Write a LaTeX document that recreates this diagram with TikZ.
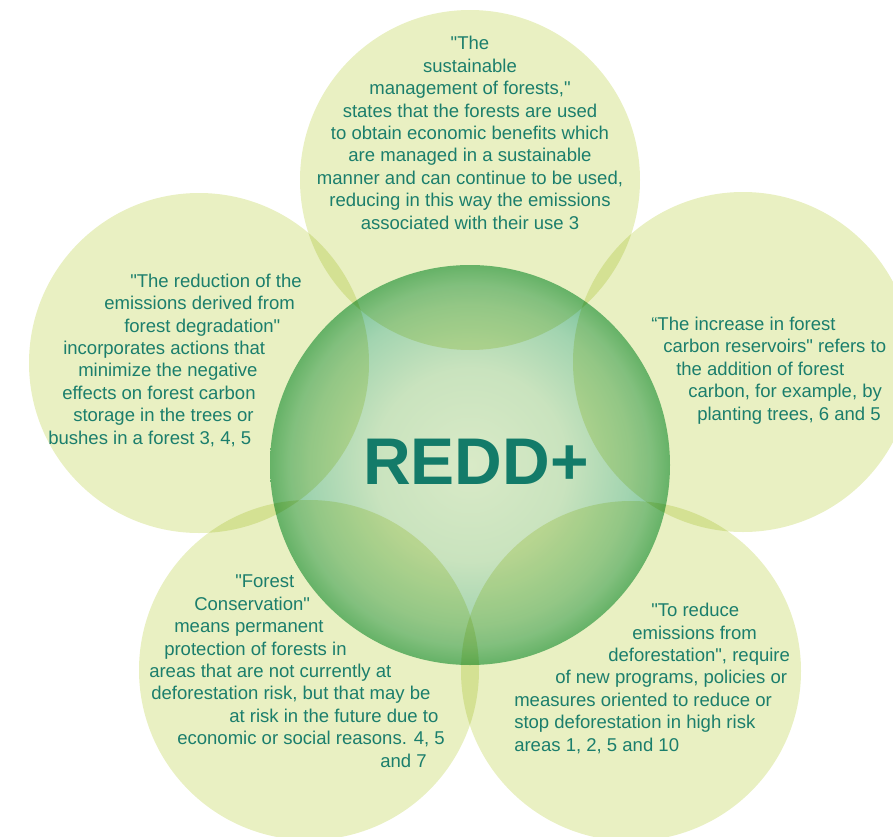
\documentclass[tikz,border=0pt]{standalone}
\usepackage{fontspec}
\setmainfont{Liberation Sans}[Ligatures=TeXOff]
\usepackage{tikz}
\usepackage{xcolor}

\definecolor{petalgreen}{HTML}{E9F0C2}
\definecolor{blurbteal}{HTML}{1B7E6C}
\definecolor{reddteal}{HTML}{137B69}
\definecolor{coremid}{HTML}{D9EAC7}
\definecolor{coreinner}{HTML}{C9E3BE}
\definecolor{coremint}{HTML}{A2D4B0}
\definecolor{corerim}{HTML}{8FCCA6}
\definecolor{coreedge}{HTML}{70BE88}
\pgfdeclareradialshading{coreshade}{\pgfpoint{0bp}{0bp}}{color(0bp)=(coremid); color(12bp)=(coreinner); color(20bp)=(coremint); color(22.5bp)=(corerim); color(25bp)=(coreedge); color(50bp)=(coreedge)}

\begin{document}
\begin{tikzpicture}[x=0.75pt,y=0.75pt,yscale=-1,xscale=1,
  petal/.style={fill=petalgreen},
  blurb/.style={text=blurbteal,font=\fontsize{13.9}{16.8}\selectfont,inner sep=0pt,align=left,anchor=base west}]
  \useasboundingbox (0,0) rectangle (893,836);
  \clip (0,0) rectangle (893,836);

  %Shape: Circle [core]
  \shade [shading=coreshade] (470,465) circle (200);
  \begin{scope}[blend mode=multiply]
  %Shape: Circle [top petal]
  \fill [petal] (470,180) circle (170);
  %Shape: Circle [left petal]
  \fill [petal] (199,363) circle (170);
  %Shape: Circle [right petal]
  \fill [petal] (743,362) circle (170);
  %Shape: Circle [lower left petal]
  \fill [petal] (309,670) circle (170);
  %Shape: Circle [lower right petal]
  \fill [petal] (631,671) circle (170);
  \end{scope}

  % Text Node (base = last line)
  \node [blurb,align=center,anchor=base] (sustain) at (470,229) {"The\\sustainable\\management of forests,"\\states that the forests are used\\to obtain economic benefits which\\are managed in a sustainable\\manner and can continue to be used,\\reducing in this way the emissions\\associated with their use 3};
  % Text Node
  \node [blurb] (degrade) at (48,444) {\hspace*{61.5pt}"The reduction of the\\\hspace*{42pt}emissions derived from\\\hspace*{57pt}forest degradation"\\\hspace*{11.25pt}incorporates actions that\\\hspace*{22.5pt}minimize the negative\\\hspace*{10.5pt}effects on forest carbon\\\hspace*{18.75pt}storage in the trees or\\bushes in a forest 3, 4, 5};
  % Text Node
  \node [blurb] (reservoir) at (651,420) {“The increase in forest\\\hspace*{9pt}carbon reservoirs" refers to\\\hspace*{18.75pt}the addition of forest\\\hspace*{27.75pt}carbon, for example, by\\\hspace*{34.5pt}planting trees, 6 and 5};
  % Text Node
  \node [blurb] (conserve) at (149,767) {\hspace*{64.5pt}"Forest\\\hspace*{33.75pt}Conservation"\\\hspace*{18.75pt}means permanent\\\hspace*{11.25pt}protection of forests in\\areas that are not currently at\\\hspace*{1.5pt}deforestation risk, but that may be\\\hspace*{60pt}at risk in the future due to\\\hspace*{21pt}economic or social reasons. 4, 5\\\hspace*{173.25pt}and 7};
  % Text Node
  \node [blurb] (deforest) at (514,751) {\hspace*{102.75pt}"To reduce\\\hspace*{88.5pt}emissions from\\\hspace*{70.5pt}deforestation", require\\\hspace*{30.75pt}of new programs, policies or\\measures oriented to reduce or\\stop deforestation in high risk\\areas 1, 2, 5 and 10};
  % Text Node
  \node [text=reddteal,font=\fontsize{49.5}{50}\selectfont\bfseries,inner sep=0pt,anchor=base] (redd) at (476,484) {REDD+};

\end{tikzpicture}
\end{document}
